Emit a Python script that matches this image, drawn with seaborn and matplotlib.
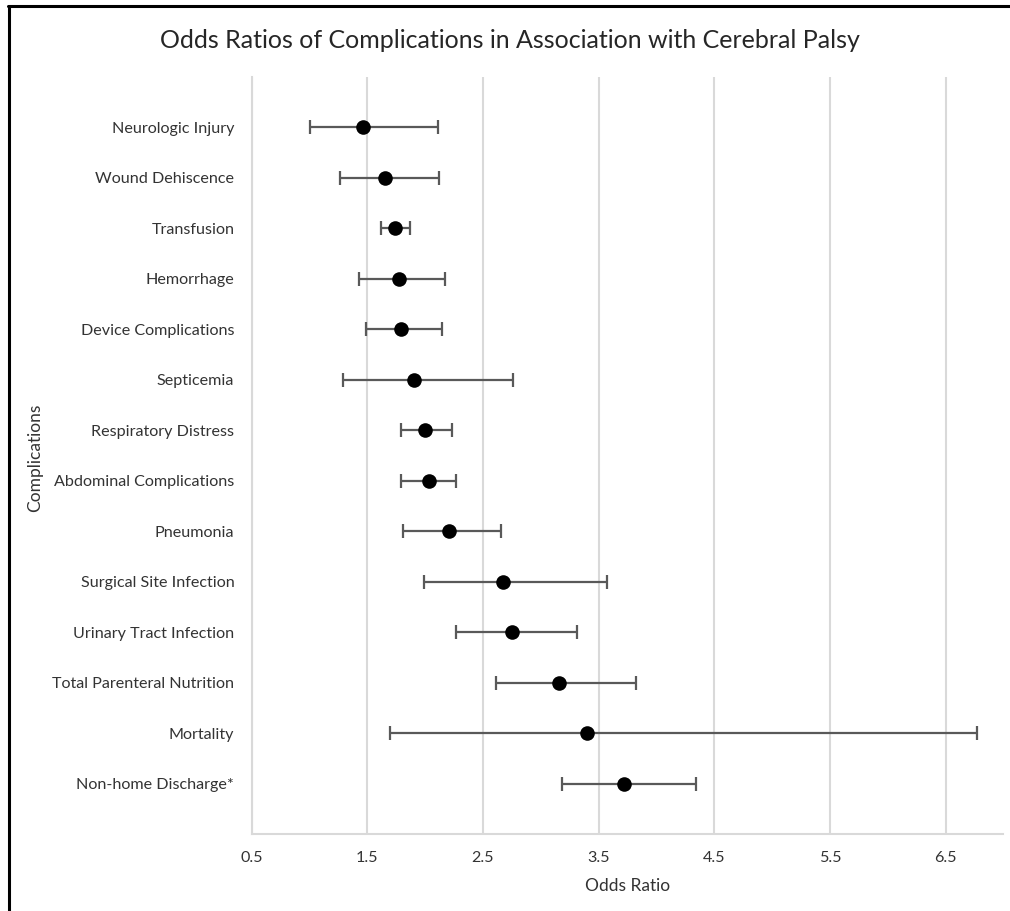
import matplotlib
matplotlib.use("Agg")
import matplotlib.pyplot as plt
from matplotlib.lines import Line2D
import numpy as np
import pandas as pd
import seaborn as sns

# values
complications = ["Neurologic Injury", "Wound Dehiscence", "Transfusion", "Hemorrhage",
                 "Device Complications", "Septicemia", "Respiratory Distress",
                 "Abdominal Complications", "Pneumonia", "Surgical Site Infection",
                 "Urinary Tract Infection", "Total Parenteral Nutrition", "Mortality",
                 "Non-home Discharge*"]
odds_ratio = [1.46, 1.65, 1.74, 1.77, 1.79, 1.90, 2.00, 2.03, 2.21, 2.67, 2.75, 3.16, 3.40, 3.72]
ci_low = [1.00, 1.26, 1.62, 1.43, 1.49, 1.29, 1.79, 1.79, 1.81, 1.99, 2.27, 2.61, 1.70, 3.18]
ci_high = [2.11, 2.12, 1.87, 2.17, 2.15, 2.76, 2.23, 2.27, 2.66, 3.57, 3.31, 3.82, 6.77, 4.34]
x_ticks = [0.5, 1.5, 2.5, 3.5, 4.5, 5.5, 6.5]

df = pd.DataFrame({"complication": complications, "or": odds_ratio,
                   "lo": ci_low, "hi": ci_high})

sns.set_style("white")
plt.rcParams["font.family"] = ["Lato", "DejaVu Sans"]
txt = "#333333"

fig = plt.figure(figsize=(10.1, 9.11), dpi=100)
ax = fig.add_axes([0.2492, 0.0845, 0.7442, 0.831])

pos = np.arange(len(df))
ax.errorbar(df["or"], pos, xerr=[df["or"] - df["lo"], df["hi"] - df["or"]],
            fmt="none", ecolor="#595959", elinewidth=1.6, capsize=4.8, capthick=1.6, zorder=2)
sns.stripplot(data=df, x="or", y="complication", jitter=False, color="black",
              size=10.5, linewidth=0, ax=ax, zorder=3)

ax.set_xlim(0.5, 7.0)
ax.set_ylim(len(df), -1)
ax.set_xticks(x_ticks)
ax.set_xticklabels([str(t) for t in x_ticks])
ax.xaxis.grid(True, color="#d9d9d9", linewidth=1.5)
ax.yaxis.grid(False)
ax.set_axisbelow(True)
for s in ["top", "right"]:
    ax.spines[s].set_visible(False)
ax.spines["left"].set_color("#d9d9d9")
ax.spines["left"].set_linewidth(1.5)
ax.spines["bottom"].set_color("#d9d9d9")
ax.spines["bottom"].set_linewidth(1.5)
ax.tick_params(axis="both", length=0, labelsize=11.6, labelcolor=txt)
ax.tick_params(axis="y", pad=12.5)
ax.tick_params(axis="x", pad=12)
ax.set_xlabel("")
ax.set_ylabel("")

fig.text(0.505, 0.956, "Odds Ratios of Complications in Association with Cerebral Palsy",
         ha="center", va="center", fontsize=18, color="#262626")
fig.text(0.621, 0.027, "Odds Ratio", ha="center", va="center", fontsize=12.5, color=txt)
fig.text(0.035, 0.498, "Complications", ha="center", va="center", rotation=90,
         fontsize=12.5, color=txt)

# black frame around the figure (top and left edges)
fig.add_artist(Line2D([0.008, 1.0], [0.9935, 0.9935], color="black", linewidth=2.2,
                      transform=fig.transFigure))
fig.add_artist(Line2D([0.009, 0.009], [0.0, 0.9935], color="black", linewidth=2.2,
                      transform=fig.transFigure))

fig.savefig("out.png", dpi=100)
